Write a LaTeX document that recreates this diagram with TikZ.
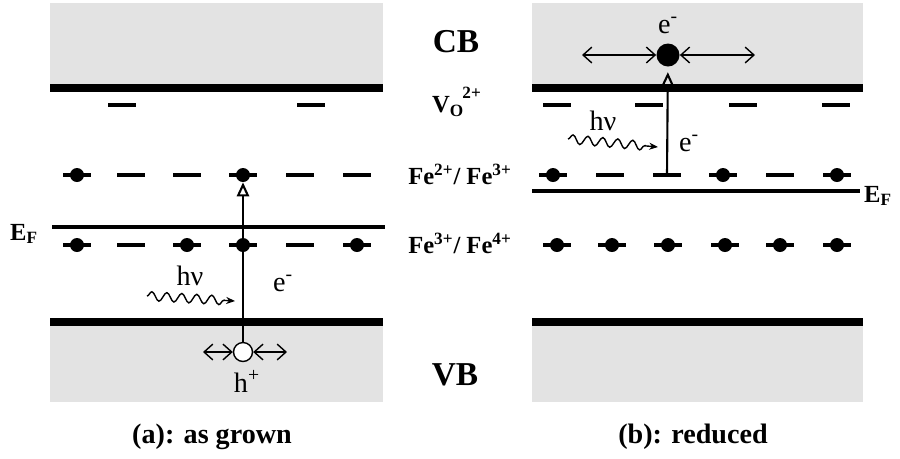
\documentclass[tikz,border=0pt]{standalone}
\usepackage{fontspec}
\setmainfont{Liberation Serif}
\usetikzlibrary{arrows.meta}
\usetikzlibrary{decorations.pathmorphing}
\usetikzlibrary{positioning}
\tikzset{>=latex}
\colorlet{bandgray}{black!11}

\begin{document}
\begin{tikzpicture}[x=0.02cm, y=-0.02cm,
    band/.style={fill=bandgray, draw=none},
    edgeline/.style={line width=4pt},
    fermi/.style={line width=2.8pt},
    lvl/.style={line width=1.8pt},
    ion/.style={circle, fill=black, inner sep=0pt, minimum size=0.28cm},
    bandlbl/.style={font=\bfseries\fontsize{19}{19}\selectfont},
    ionlbl/.style={font=\bfseries\fontsize{14}{14}\selectfont},
    caption/.style={font=\bfseries\fontsize{16}{16}\selectfont},
    txt/.style={font=\fontsize{16}{16}\selectfont, inner sep=1pt},
    wave/.style={decorate, decoration={snake, amplitude=0.09cm, segment length=0.3cm, post length=0.12cm}, -{Stealth[length=5pt,width=4pt]}, line width=0.8pt},
    slide/.style={{Straight Barb[length=5pt,width=9pt]}-{Straight Barb[length=5pt,width=9pt]}, line width=0.8pt},
    jump/.style={-{Triangle[open, length=8pt, width=7pt]}, line width=1.2pt}]

  \useasboundingbox (0,0) rectangle (900,458);

  % BANDS
  \fill[band] (50,3) rectangle (383,88);
  \fill[band] (532,3) rectangle (863,88);
  \fill[band] (50,322) rectangle (383,402);
  \fill[band] (532,322) rectangle (863,402);
  \draw[edgeline] (50,88) -- (383,88);
  \draw[edgeline] (532,88) -- (863,88);
  \draw[edgeline] (50,322) -- (383,322);
  \draw[edgeline] (532,322) -- (863,322);

  % FERMI LEVELS
  \draw[fermi] (52,227) -- (385,227);
  \draw[fermi] (532,191) -- (860,191);
  \node[ionlbl] (efa) at (24,234) {E\textsubscript{F}};
  \node[ionlbl] (efb) at (878,196) {E\textsubscript{F}};

  % VO LEVELS
  \foreach \x in {122,311}
    \draw[lvl] (\x-14,105) -- (\x+14,105);
  \foreach \x in {557,649,743,836}
    \draw[lvl] (\x-14,105) -- (\x+14,105);

  % FE2+/FE3+ ROW
  \foreach \x in {131,187,300,357}
    \draw[lvl] (\x-14,175) -- (\x+14,175);
  \foreach \x/\n in {77/ua1,243/ua2} {
    \draw[lvl] (\x-14,175) -- (\x+14,175);
    \node[ion] (\n) at (\x,175) {};
  }
  \foreach \x in {610,667,780}
    \draw[lvl] (\x-14,175) -- (\x+14,175);
  \coordinate (ub0) at (667,175);
  \foreach \x/\n in {553/ub1,723/ub2,837/ub3} {
    \draw[lvl] (\x-14,175) -- (\x+14,175);
    \node[ion] (\n) at (\x,175) {};
  }

  % FE3+/FE4+ ROW
  \foreach \x in {131,300}
    \draw[lvl] (\x-14,245) -- (\x+14,245);
  \foreach \x/\n in {77/la1,187/la2,243/la3,357/la4} {
    \draw[lvl] (\x-14,245) -- (\x+14,245);
    \node[ion] (\n) at (\x,245) {};
  }
  \foreach \x/\n in {557/lb1,612/lb2,668/lb3,725/lb4,780/lb5,837/lb6} {
    \draw[lvl] (\x-14,245) -- (\x+14,245);
    \node[ion] (\n) at (\x,245) {};
  }

  % CENTRE LABELS
  \node[bandlbl] (cb) at (456,42) {CB};
  \node[ionlbl] (vo) at (457,102) {V\textsubscript{O}\kern-1pt\raisebox{3pt}{\textsuperscript{2+}}};
  \node[ionlbl] (fe23) at (460,174) {Fe\textsuperscript{2+}/ Fe\textsuperscript{3+}};
  \node[ionlbl] (fe34) at (460,243) {Fe\textsuperscript{3+}/ Fe\textsuperscript{4+}};
  \node[bandlbl] (vb) at (455,375) {VB};

  % (A) AS GROWN
  \node[circle, draw, fill=white, line width=0.8pt, inner sep=0pt, minimum size=0.38cm] (hole) at (243,352) {};
  \coordinate (hl) at (203,352);
  \coordinate (hr) at (287,352);
  \draw[slide] (hl) -- (hole.west);
  \draw[slide] (hole.east) -- (hr);
  \node[txt] (hplus) at (247,381) {h\textsuperscript{+}};
  \draw[line width=0.8pt] (hole) -- (la3);
  \draw[jump] (la3) -- (ua2);
  \coordinate (wa0) at (147,296);
  \coordinate (wa1) at (235,301);
  \draw[wave] (wa0) -- (wa1);
  \node[txt] (hva) at (190,276) {hν};
  \node[txt] (ea) at (283,283) {e\textsuperscript{-}};

  % (B) REDUCED
  \node[ion, minimum size=0.46cm] (elec) at (668,55) {};
  \coordinate (el) at (582,55);
  \coordinate (er) at (755,55);
  \draw[slide] (el) -- (elec.west);
  \draw[slide] (elec.east) -- (er);
  \node[txt] (etop) at (668,25) {e\textsuperscript{-}};
  \draw[jump, shorten >=3pt] (ub0) -- (elec);
  \coordinate (wb0) at (568,139);
  \coordinate (wb1) at (658,147);
  \draw[wave] (wb0) -- (wb1);
  \node[txt] (hvb) at (603,121) {hν};
  \node[txt] (eb) at (689,143) {e\textsuperscript{-}};

  % CAPTIONS
  \node[caption] (capa) at (212,437) {(a): as grown};
  \node[caption] (capb) at (693,437) {(b): reduced};

\end{tikzpicture}
\end{document}
